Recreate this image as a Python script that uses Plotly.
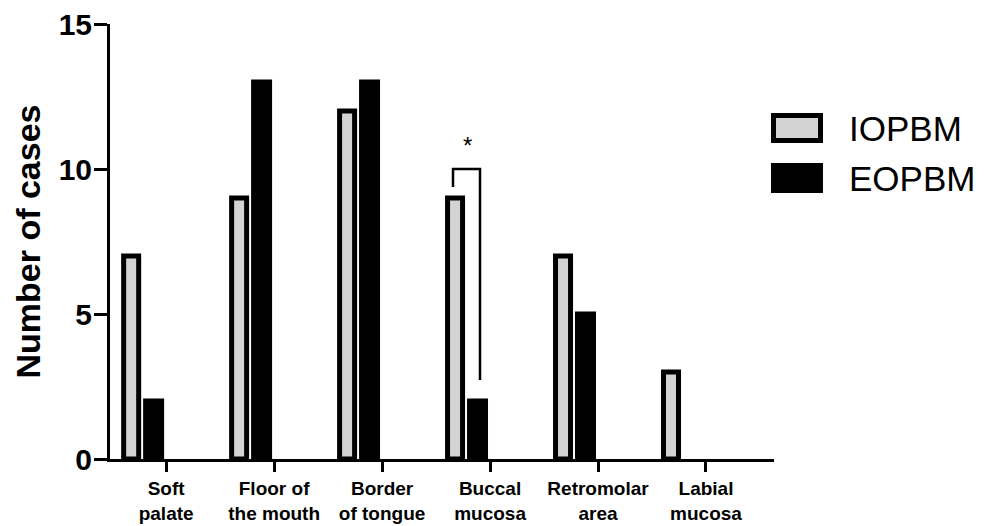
import plotly.graph_objects as go

categories = ["Soft<br>palate", "Floor of<br>the mouth", "Border<br>of tongue",
              "Buccal<br>mucosa", "Retromolar<br>area", "Labial<br>mucosa"]
series_names = ["IOPBM", "EOPBM"]
iopbm = [7, 9, 12, 9, 7, 3]
eopbm = [2, 13, 13, 2, 5, 0]
y_ticks = [0, 5, 10, 15]

FONT = "Arial, Liberation Sans, sans-serif"
GRAY = "#d3d3d3"

fig = go.Figure()
fig.add_trace(go.Bar(x=categories, y=iopbm, name=series_names[0],
                     marker=dict(color=GRAY,
                                 line=dict(color="black", width=[5 if v > 0 else 0 for v in iopbm])),
                     offset=-0.3935, width=0.139, showlegend=False))
fig.add_trace(go.Bar(x=categories, y=eopbm, name=series_names[1],
                     marker=dict(color="black",
                                 line=dict(color="black", width=[5 if v > 0 else 0 for v in eopbm])),
                     offset=-0.19, width=0.148, showlegend=False))

# significance bracket on Buccal mucosa (category index 3)
bx = 3
fig.add_shape(type="path",
              path=f"M {bx-0.343},9.38 L {bx-0.343},10.0 L {bx-0.093},10.0 L {bx-0.093},2.72",
              xref="x", yref="y", line=dict(color="black", width=2.5))
fig.add_annotation(x=bx-0.213, y=10.8, xref="x", yref="y", text="*", showarrow=False,
                   font=dict(family=FONT, size=24, color="black"))

# manual legend (paper coords: plot spans px x 110..774, y 24..459)
def px_x(p):
    return (p - 110) / 664
def px_y(p):
    return (459 - p) / 435

legend_rows = [(series_names[0], GRAY, 128), (series_names[1], "black", 178)]
for name, color, cy in legend_rows:
    fig.add_shape(type="rect", xref="paper", yref="paper",
                  x0=px_x(773.5), x1=px_x(820.5), y0=px_y(cy - 12.5), y1=px_y(cy + 12.5),
                  fillcolor=color, line=dict(color="black", width=5))
    fig.add_annotation(xref="paper", yref="paper", x=px_x(847), y=px_y(cy),
                       xanchor="left", yanchor="middle", text=name, showarrow=False,
                       font=dict(family=FONT, size=35, color="black"))

fig.update_layout(
    width=989, height=526,
    margin=dict(l=110, r=215, t=24, b=67),
    paper_bgcolor="white", plot_bgcolor="white",
    barmode="overlay",
    font=dict(family=FONT, color="black"),
    xaxis=dict(type="category", range=[-0.52, 5.63], automargin=False,
               showline=True, linecolor="black", linewidth=3,
               ticks="outside", ticklen=10, tickwidth=3, tickcolor="black",
               tickfont=dict(family=FONT, size=19, color="black", weight="bold"),
               showgrid=False, zeroline=False),
    yaxis=dict(range=[0, 15], tickvals=y_ticks, automargin=False,
               showline=True, linecolor="black", linewidth=3,
               ticks="outside", ticklen=13, tickwidth=3, tickcolor="black",
               ticklabelstandoff=-4,
               tickfont=dict(family=FONT, size=30, color="black", weight="bold"),
               showgrid=False, zeroline=False,
               title=dict(text="Number of cases", standoff=8,
                          font=dict(family=FONT, size=34, color="black", weight="bold"))),
)

fig.write_html("out.html", config={"displayModeBar": False},
               post_script="document.body.style.margin='0';")
